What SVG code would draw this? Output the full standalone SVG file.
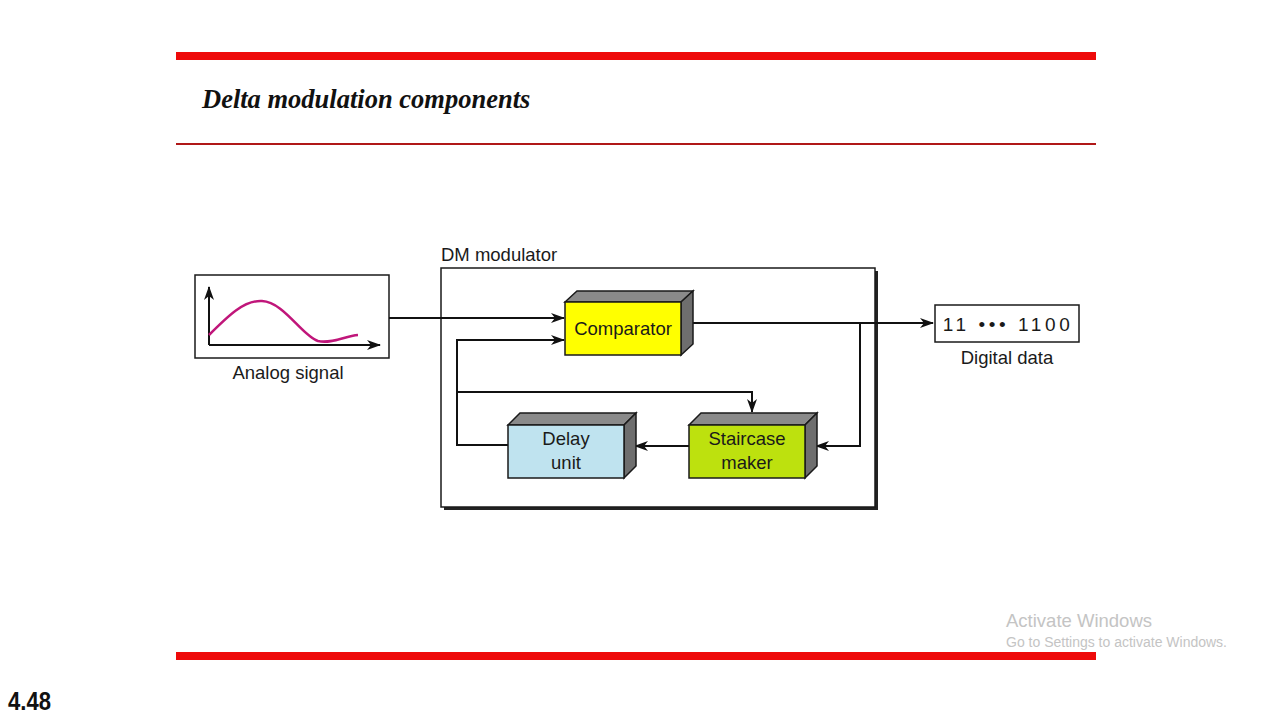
<svg xmlns="http://www.w3.org/2000/svg" width="1280" height="720" viewBox="0 0 1280 720">
<style>
.lbl{font-family:"Liberation Sans",Arial,sans-serif;font-size:18.5px;fill:#1a1a1a}
.box{stroke:#1a1a1a;stroke-width:1.5}
.top{fill:#8a8a8a;stroke:#1a1a1a;stroke-width:1.5}
.side{fill:#6e6e6e;stroke:#1a1a1a;stroke-width:1.5}
.ln{fill:none;stroke:#111;stroke-width:2}
</style>
<defs>
<marker id="ah" markerWidth="14" markerHeight="10" refX="13" refY="5" orient="auto" markerUnits="userSpaceOnUse">
<path d="M0,0 L14,5 L0,10 L4,5 Z" fill="#111"/>
</marker>
</defs>
<rect width="1280" height="720" fill="#fff"/>
<!-- header/footer -->
<rect x="176" y="52" width="920" height="8" fill="#ee0a0a"/>
<rect x="176" y="143" width="920" height="2" fill="#b01818"/>
<rect x="176" y="652" width="920" height="8" fill="#ee0a0a"/>
<text x="202" y="108" font-family="Liberation Serif,serif" font-size="26.5" font-weight="bold" font-style="italic" fill="#111">Delta modulation components</text>
<text x="8" y="710" font-family="Liberation Sans,sans-serif" font-size="26" font-weight="bold" fill="#111" transform="translate(8 0) scale(0.85 1) translate(-8 0)">4.48</text>
<text x="1006" y="627" font-family="Liberation Sans,sans-serif" font-size="18.5" fill="#c4c4c4">Activate Windows</text>
<text x="1006" y="647" font-family="Liberation Sans,sans-serif" font-size="14" fill="#c4c4c4">Go to Settings to activate Windows.</text>

<!-- analog signal -->
<g id="analog">
<rect x="195" y="275" width="194" height="83" fill="#fff" class="box"/>
<path d="M209,345 V287" class="ln" marker-end="url(#ah)"/>
<path d="M209,345 H380" class="ln" marker-end="url(#ah)"/>
<path d="M209,335 C228,316 244,300 262,301 C284,302 302,336 318,341 C332,344 345,336 358,335" fill="none" stroke="#c0167a" stroke-width="2.5"/>
<text x="288" y="379" text-anchor="middle" class="lbl">Analog signal</text>
</g>

<!-- DM modulator -->
<g id="dm">
<rect x="444" y="271" width="434" height="239" fill="#222"/>
<rect x="441" y="268" width="434" height="239" fill="#fff" stroke="#1a1a1a" stroke-width="1.5"/>
<text x="441" y="261" class="lbl">DM modulator</text>
</g>

<g id="connectors">
<path d="M389,318 H564" class="ln" marker-end="url(#ah)"/>
<path d="M508,445 H457 V340 H564" class="ln" marker-end="url(#ah)"/>
<path d="M457,392 H752 V412" class="ln" marker-end="url(#ah)"/>
<path d="M681,323 H933" class="ln" marker-end="url(#ah)"/>
<path d="M860,323 V446 H816" class="ln" marker-end="url(#ah)"/>
<path d="M689,446 H635" class="ln" marker-end="url(#ah)"/>
</g>

<g id="comparator">
<polygon points="565,302 577,291 693,291 681,302" class="top"/>
<polygon points="681,302 693,291 693,344 681,355" class="side"/>
<rect x="565" y="302" width="116" height="53" fill="#ffff00" class="box"/>
<text x="623" y="335" text-anchor="middle" class="lbl">Comparator</text>
</g>

<g id="staircase">
<polygon points="689,425 701,413 817,413 805,425" class="top"/>
<polygon points="805,425 817,413 817,466 805,478" class="side"/>
<rect x="689" y="425" width="116" height="53" fill="#bde10e" class="box"/>
<text x="747" y="445" text-anchor="middle" class="lbl">Staircase</text>
<text x="747" y="469" text-anchor="middle" class="lbl">maker</text>
</g>

<g id="delay">
<polygon points="508,425 520,413 636,413 624,425" class="top"/>
<polygon points="624,425 636,413 636,466 624,478" class="side"/>
<rect x="508" y="425" width="116" height="53" fill="#bfe3ef" class="box"/>
<text x="566" y="445" text-anchor="middle" class="lbl">Delay</text>
<text x="566" y="469" text-anchor="middle" class="lbl">unit</text>
</g>

<g id="digital">
<rect x="935" y="305" width="144" height="37" fill="#fff" class="box"/>
<text x="1008" y="331" text-anchor="middle" font-family="Liberation Sans,sans-serif" font-size="19" fill="#1a1a1a" letter-spacing="3.6">11 ••• 1100</text>
<text x="1007" y="364" text-anchor="middle" class="lbl">Digital data</text>
</g>
</svg>
